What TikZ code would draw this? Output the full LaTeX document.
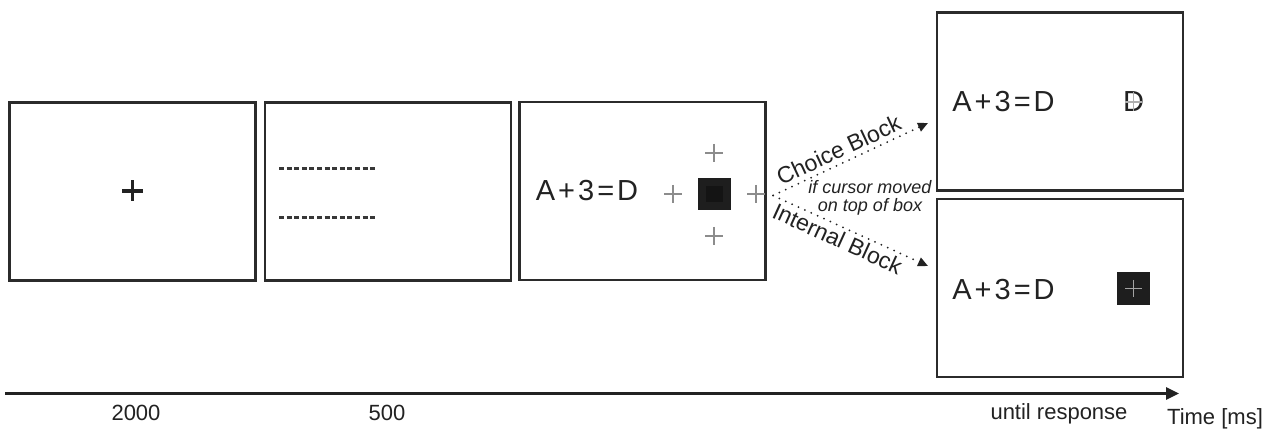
\documentclass[tikz,border=0pt]{standalone}
\usepackage{fontspec}
\setmainfont{Liberation Sans}
\usetikzlibrary{arrows.meta}
\definecolor{frame}{HTML}{2B2B2B}
\definecolor{ink}{HTML}{222222}
\definecolor{crossgray}{HTML}{8C8C8C}
\definecolor{sqfill}{HTML}{1E1E1E}
\definecolor{sqinner}{HTML}{141414}
\newcommand{\eqtxt}{A\kern3pt+\kern3pt3\kern3pt=\kern3pt D}
\tikzset{
  screen/.style={draw=frame, line width=2.4pt, fill=white, inner sep=0pt, minimum width=246pt, minimum height=178pt},
  eqlabel/.style={inner sep=0pt, anchor=base, text=ink, font=\fontsize{29}{34}\selectfont},
  timelabel/.style={inner sep=0pt, anchor=base, text=ink, font=\fontsize{22}{26}\selectfont},
  blocklabel/.style={inner sep=0pt, text=ink, font=\fontsize{23}{27}\selectfont},
  cursorlabel/.style={inner sep=0pt, text=ink, font=\itshape\fontsize{18}{21}\selectfont},
  graycross/.style={draw=crossgray, line width=1.5pt},
  dotline/.style={draw=ink, line width=2pt, line cap=round, dash pattern=on 0pt off 7pt,
    -{Triangle[length=10pt,width=9pt,line cap=butt]}},
  dashrow/.style={draw=ink!90, line width=3pt, dash pattern=on 5pt off 2.6pt},
  timeaxis/.style={draw=ink, line width=2.8pt, -{Triangle[length=13pt,width=12pt]}}
}
\begin{document}
\begin{tikzpicture}[x=1pt,y=-1pt]
\useasboundingbox[fill=white] (0,0) rectangle (1274,430);

% screens
\node[screen] (s1) at (132.5,191.5) {};
\node[screen] (s2) at (388,191.5) {};
\node[screen] (s3) at (642.5,191) {};
\node[screen] (s4) at (1060,101.5) {};
\node[screen] (s5) at (1060,288) {};

% screen 1: fixation cross
\draw[draw=ink, line width=3.6pt] (122,191) -- (143,191) (132.5,180.5) -- (132.5,201.5);

% screen 2: dashed rows
\draw[dashrow] (279,169) -- (377,169);
\draw[dashrow] (279,218) -- (377,218);

% screen 3
\node[eqlabel] (e3) at (587,201) {\eqtxt};
\draw[graycross] (664,194) -- (682,194) (673,185) -- (673,203);
\draw[graycross] (705,153) -- (723,153) (714,144) -- (714,162);
\draw[graycross] (705,236) -- (723,236) (714,227) -- (714,245);
\draw[graycross] (747,194) -- (765,194) (756,185) -- (756,203);
\fill[sqfill] (698,178) rectangle (731,210);
\fill[sqinner] (706,186) rectangle (723,202);

% screen 4
\node[eqlabel] (e4) at (1003.5,112) {\eqtxt};
\node[eqlabel] (d4) at (1133.5,112) {D};
\draw[draw=crossgray!70, line width=1.2pt] (1125,102) -- (1142,102) (1133.5,92) -- (1133.5,111);

% screen 5
\node[eqlabel] (e5) at (1003.5,300) {\eqtxt};
\fill[sqfill] (1117,272) rectangle (1150,305);
\draw[draw=crossgray!80, line width=1.5pt] (1125,288.5) -- (1142,288.5) (1133.5,280) -- (1133.5,297);

% branching connectors
\coordinate (fork) at (773,195.5);
\coordinate (toChoice) at (928,123);
\coordinate (toInternal) at (928,266);
\draw[dotline] (fork) -- node[blocklabel, pos=0.46, above=4pt, sloped] (cb) {Choice Block} (toChoice);
\draw[dotline] (fork) -- node[blocklabel, pos=0.45, below=3pt, sloped] (ib) {Internal Block} (toInternal);
\node[cursorlabel] (c1) at (870,187) {if cursor moved};
\node[cursorlabel] (c2) at (870,207) {on top of box};

% time axis
\coordinate (tstart) at (5,393.5);
\coordinate (tend) at (1179,393.5);
\draw[timeaxis] (tstart) -- (tend);
\node[timelabel] (t1) at (136,420) {2000};
\node[timelabel] (t2) at (387,420) {500};
\node[timelabel] (t3) at (1059,419) {until response};
\node[timelabel] (t4) at (1215,424) {Time [ms]};
\end{tikzpicture}
\end{document}
